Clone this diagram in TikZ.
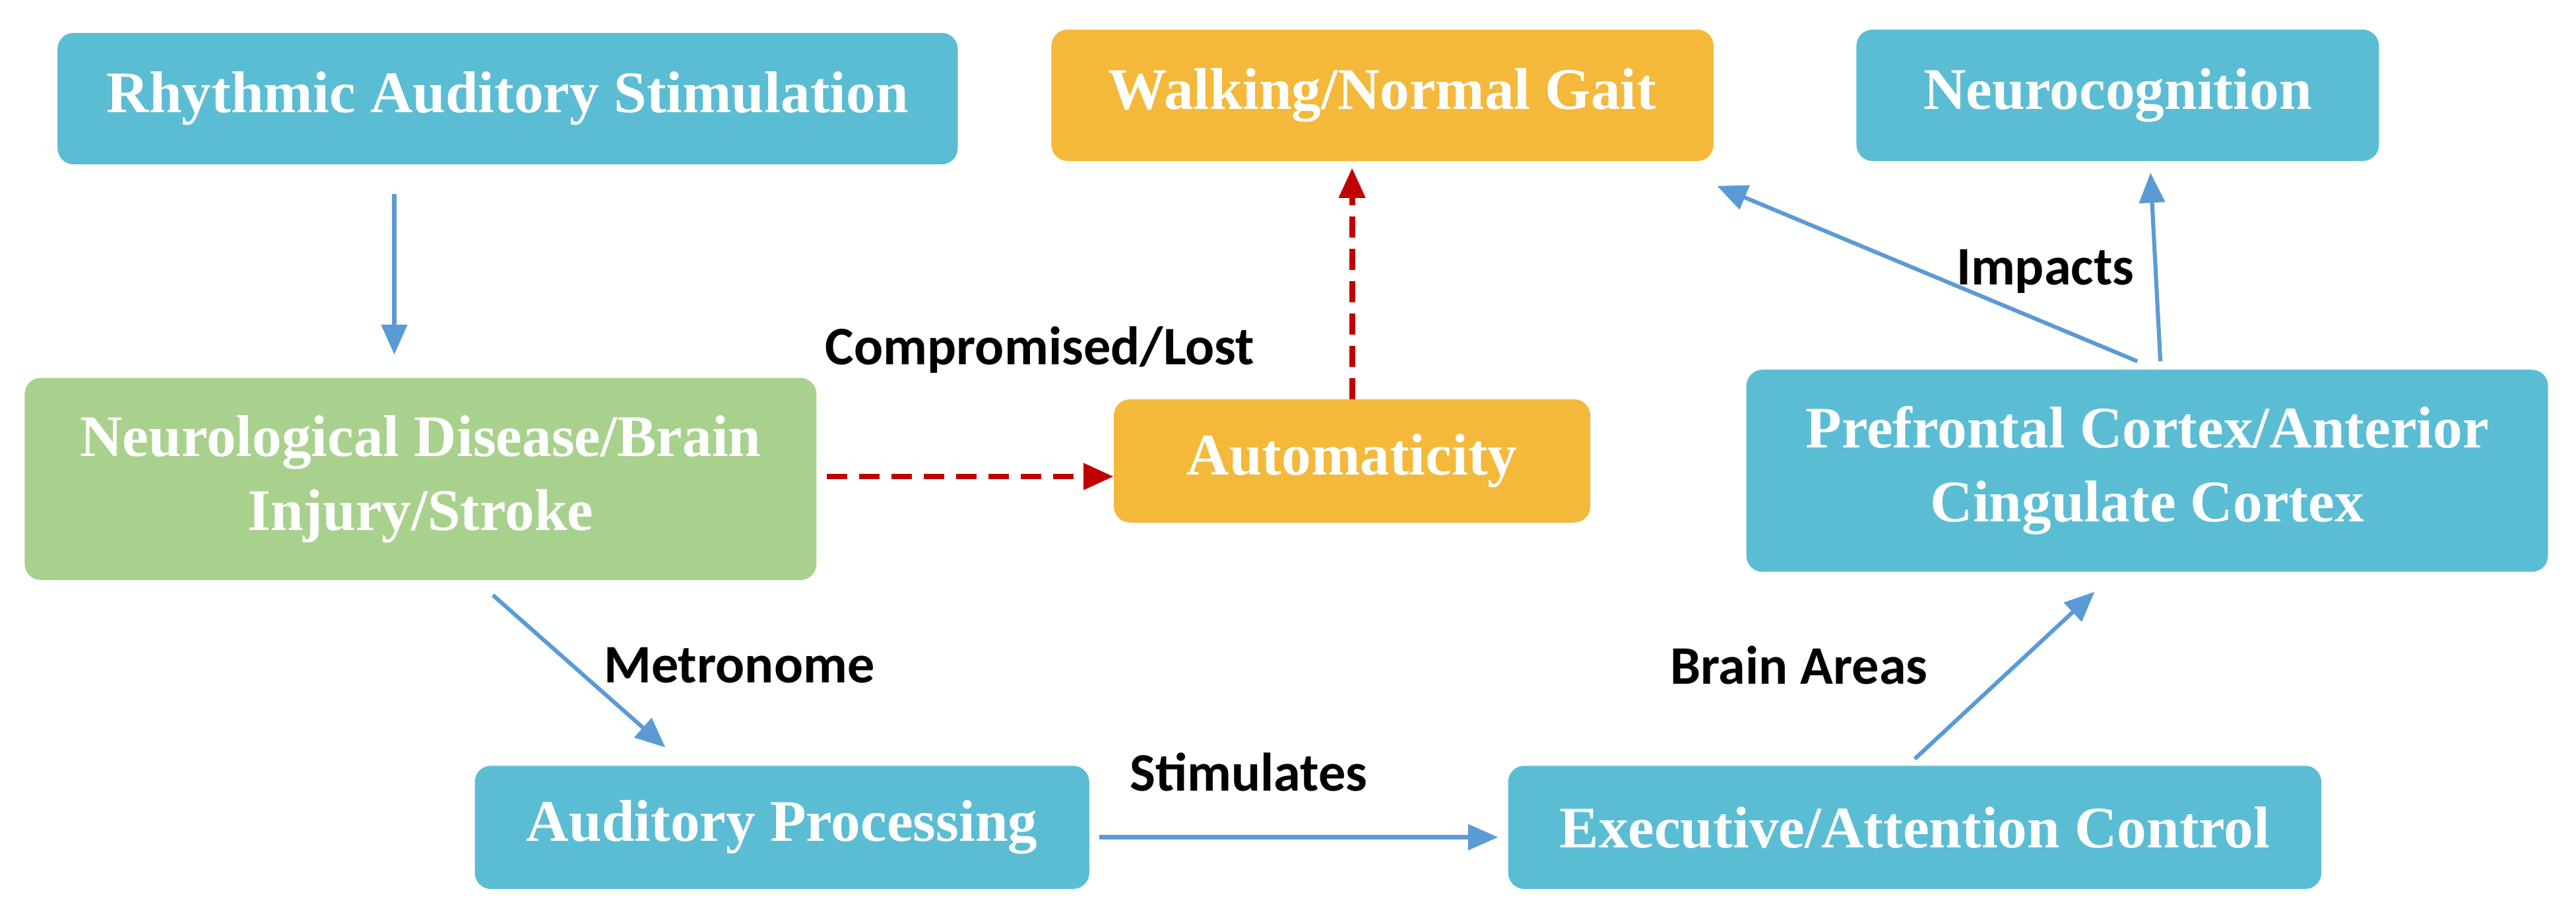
\documentclass[tikz,border=0pt]{standalone}
\usepackage{fontspec}
\setmainfont{Liberation Serif}
\newfontfamily\lblfont{Carlito}
\usetikzlibrary{arrows.meta, positioning}
\definecolor{boxblue}{RGB}{91, 189, 212}
\definecolor{boxgreen}{RGB}{169, 209, 142}
\definecolor{boxorange}{RGB}{244, 185, 58}
\definecolor{arrowblue}{RGB}{91, 155, 213}
\definecolor{arrowred}{RGB}{192, 0, 0}
\tikzset{
  box/.style={rectangle, rounded corners=14pt, text centered, draw=none, text=white, align=center,
    font=\fontsize{51}{64}\selectfont\bfseries, inner sep=0pt},
  bluebox/.style={box, fill=boxblue},
  greenbox/.style={box, fill=boxgreen},
  orangebox/.style={box, fill=boxorange},
  arrow/.style={arrowblue, line width=3.5pt, -{Triangle[length=26pt,width=22pt]}},
  dashedarrow/.style={arrowred, line width=5pt, dash pattern=on 18pt off 10pt, -{Triangle[length=26pt,width=22pt]}},
  lbl/.style={font=\lblfont\fontsize{47}{56}\selectfont\bfseries}
}
\begin{document}
\begin{tikzpicture}[x=0.5mm, y=-0.5mm]
\useasboundingbox (0,0) rectangle (1568,559.5);

% Nodes
\node (ras) [bluebox, minimum width=274mm, minimum height=40mm] at (309,60) {Rhythmic Auditory Stimulation};
\node (gait) [orangebox, minimum width=201.5mm, minimum height=40mm] at (841.5,58) {Walking/Normal Gait};
\node (cog) [bluebox, minimum width=159mm, minimum height=40mm] at (1289,58) {Neurocognition};
\node (disease) [greenbox, minimum width=241mm, minimum height=61.5mm] at (256,291.5) {Neurological Disease/Brain\\Injury/Stroke};
\node (auto) [orangebox, minimum width=145mm, minimum height=37.5mm] at (823,280.5) {Automaticity};
\node (pfc) [bluebox, minimum width=244mm, minimum height=61.5mm] at (1307,286.5) {Prefrontal Cortex/Anterior\\Cingulate Cortex};
\node (audio) [bluebox, minimum width=187mm, minimum height=37.5mm] at (476,503.5) {Auditory Processing};
\node (exec) [bluebox, minimum width=247.5mm, minimum height=37.5mm] at (1165.5,503.5) {Executive/Attention Control};

% Arrows
\draw [arrow] ([yshift=-9mm]ras.south -| 240,0) -- ([yshift=7mm]disease.north -| 240,0);
\draw [dashedarrow] ([xshift=3mm]disease.east |- 0,290) -- (auto.west |- 0,290);
\draw [dashedarrow] (auto.north) -- ([yshift=-2mm]gait.south -| auto.north);
\draw [arrow] ([xshift=-3mm,yshift=2.5mm]pfc.north) -- ([xshift=1mm,yshift=-7.5mm]gait.south east);
\draw [arrow] ([xshift=4mm,yshift=2.5mm]pfc.north) -- ([xshift=10mm,yshift=-3.5mm]cog.south);
\draw [arrow] ([xshift=22mm,yshift=-4.5mm]disease.south) -- ([xshift=-35.5mm,yshift=5.5mm]audio.north);
\draw [arrow] ([xshift=3mm,yshift=-3mm]audio.east) -- ([xshift=-3mm,yshift=-3mm]exec.west);
\draw [arrow] ([yshift=2mm]exec.north) -- ([xshift=-16mm,yshift=-6mm]pfc.south);

% Labels
\node [lbl] at (633,213) {Compromised/Lost};
\node [lbl] at (1245,165) {Impacts};
\node [lbl] at (450,405) {Metronome};
\node [lbl] at (760,470) {Stimulates};
\node [lbl] at (1095,405) {Brain Areas};
\end{tikzpicture}
\end{document}
